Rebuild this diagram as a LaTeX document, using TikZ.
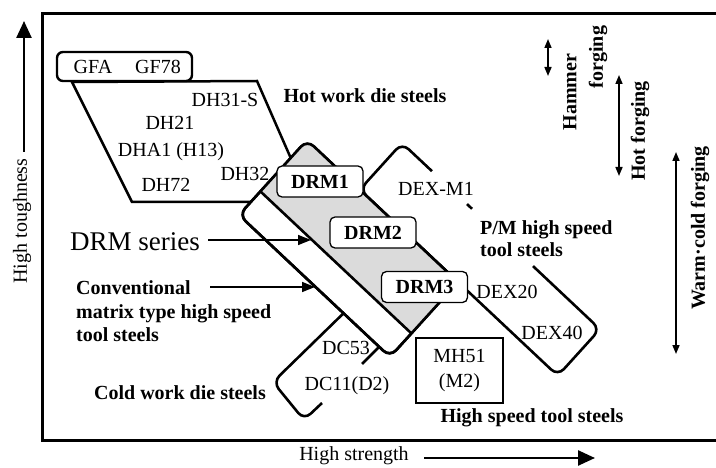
\documentclass[tikz,border=0pt]{standalone}
\usepackage{fontspec}
\setmainfont{Liberation Serif}
\usetikzlibrary{arrows.meta}
\begin{document}
\begin{tikzpicture}[x=1pt,y=-1pt,
  lbl/.style={font=\fontsize{20}{22}\selectfont, inner sep=1pt},
  blbl/.style={font=\fontsize{20}{22}\selectfont\bfseries, inner sep=1pt},
  band/.style={line width=2.6pt, rounded corners=9pt, line join=round},
  drmbox/.style={draw, fill=white, line width=1.3pt, rounded corners=5pt, minimum width=86pt, minimum height=31pt, font=\fontsize{20}{22}\selectfont\bfseries, inner sep=0pt},
  axisarrow/.style={line width=2.5pt, -{Triangle[length=17pt,width=15pt]}},
  ptr/.style={line width=1.5pt, -{Triangle[length=13pt,width=10pt]}},
  forge/.style={line width=1.6pt, {Triangle[length=9pt,width=7pt]}-{Triangle[length=9pt,width=7pt]}},
  shade/.style={fill=black!14}
]
\useasboundingbox (0,0) rectangle (716,468);

% frame (open at the right)
\draw[line width=3pt] (718,14) -- (42,14) -- (42,440) -- (718,440);

% axes
\coordinate (ya) at (24,152);
\coordinate (yb) at (24,21);
\draw[axisarrow] (ya) -- (yb);
\node[lbl, rotate=90] (htough) at (22,221) {High toughness};
\node[lbl] (hstr) at (354,456) {High strength};
\coordinate (xa) at (424,458);
\coordinate (xb) at (595,458);
\draw[axisarrow] (xa) -- (xb);

% hot work die steels parallelogram
\draw[line width=2.5pt] (72,82) -- (257,81) -- (310,202) -- (132,202) -- cycle;
\node[draw, fill=white, line width=2.4pt, rounded corners=6pt, minimum width=135pt, minimum height=29pt] (gfabox) at (124.5,66.5) {};
\node[lbl] (gfa) at (93,67) {GFA};
\node[lbl] (gf78) at (158,67) {GF78};

% cold work die steels shape
\draw[band] (322,403) -- (304,420) -- (273,382) -- (352,305);
\draw[line width=2.6pt] (362,364) -- (383,343);

% P/M high speed tool steels band
\fill[white, rounded corners=9pt] (402,143) -- (359.8,189.6) -- (557.8,375.8) -- (600,329.2) -- cycle;
\draw[band] (432,171.2) -- (402,143) -- (359.8,189.6) -- (557.8,375.8) -- (600,329.2) -- (533,266.1);
\draw[line width=2.6pt] (467,204.1) -- (472,208.8);

% conventional matrix band and DRM band
\draw[band, fill=white] (307,140) -- (458,282) -- (390,357) -- (239,215) -- cycle;
\begin{scope}
  \clip[rounded corners=9pt] (307,140) -- (458,282) -- (390,357) -- (239,215) -- cycle;
  \fill[shade] (307,140) -- (458,282) -- (411.4,333.4) -- (260.4,191.4) -- cycle;
\end{scope}
\draw[band] (307,140) -- (458,282) -- (390,357) -- (239,215) -- cycle;
\draw[line width=2.6pt] (260.4,191.4) -- (411.4,333.4);

% DRM boxes
\node[drmbox] (drm1) at (320,181.5) {DRM1};
\node[drmbox] (drm2) at (373,232.5) {DRM2};
\node[drmbox] (drm3) at (424.5,287) {DRM3};

% MH51 box
\node[draw, line width=2.4pt, minimum width=87pt, minimum height=65pt, align=center, font=\fontsize{20}{25}\selectfont, inner sep=0pt] (mh51) at (459.5,370.5) {MH51\\(M2)};

% labels
\node[lbl] (dh31) at (225,100) {DH31-S};
\node[lbl] (dh21) at (170,123) {DH21};
\node[lbl] (dha1) at (171,152) {DHA1 (H13)};
\node[lbl] (dh72) at (166,185) {DH72};
\node[lbl] (dh32) at (245,174) {DH32};
\node[blbl] (hotwork) at (365,96) {Hot work die steels};
\node[lbl] (dexm1) at (436,189) {DEX-M1};
\node[blbl, align=left, anchor=west] (pm) at (479,239) {P/M high speed\\tool steels};
\node[lbl] (dex20) at (507,292) {DEX20};
\node[lbl] (dex40) at (552,333) {DEX40};
\node[blbl] (hsts) at (532,418) {High speed tool steels};
\node[lbl] (dc53) at (346,348) {DC53};
\node[lbl] (dc11) at (347,386) {DC11(D2)};
\node[blbl] (cold) at (180,393) {Cold work die steels};
\node[font=\fontsize{27}{30}\selectfont, inner sep=1pt] (drmseries) at (135,242) {DRM series};
\node[blbl, align=left, anchor=west, font=\fontsize{20}{23.5}\selectfont\bfseries] (conv) at (75,311.5) {Conventional\\matrix type high speed\\tool steels};

% pointer arrows
\coordinate (p1a) at (208,240);
\coordinate (p1b) at (311,240);
\draw[ptr] (p1a) -- (p1b);
\coordinate (p2a) at (210,287);
\coordinate (p2b) at (315,287);
\draw[ptr] (p2a) -- (p2b);

% forging ranges
\coordinate (h1) at (548,39);
\coordinate (h2) at (548,76);
\draw[forge] (h1) -- (h2);
\node[blbl, rotate=90] (hammer) at (570,92) {Hammer};
\node[blbl, rotate=90] (forg) at (598,57) {forging};
\coordinate (f1) at (619,75);
\coordinate (f2) at (619,176);
\draw[forge] (f1) -- (f2);
\node[blbl, rotate=90] (hotf) at (640,131) {Hot forging};
\coordinate (w1) at (676,152);
\coordinate (w2) at (676,354);
\draw[forge] (w1) -- (w2);
\node[blbl, rotate=90] (warm) at (700,228) {Warm·cold forging};
\end{tikzpicture}
\end{document}
